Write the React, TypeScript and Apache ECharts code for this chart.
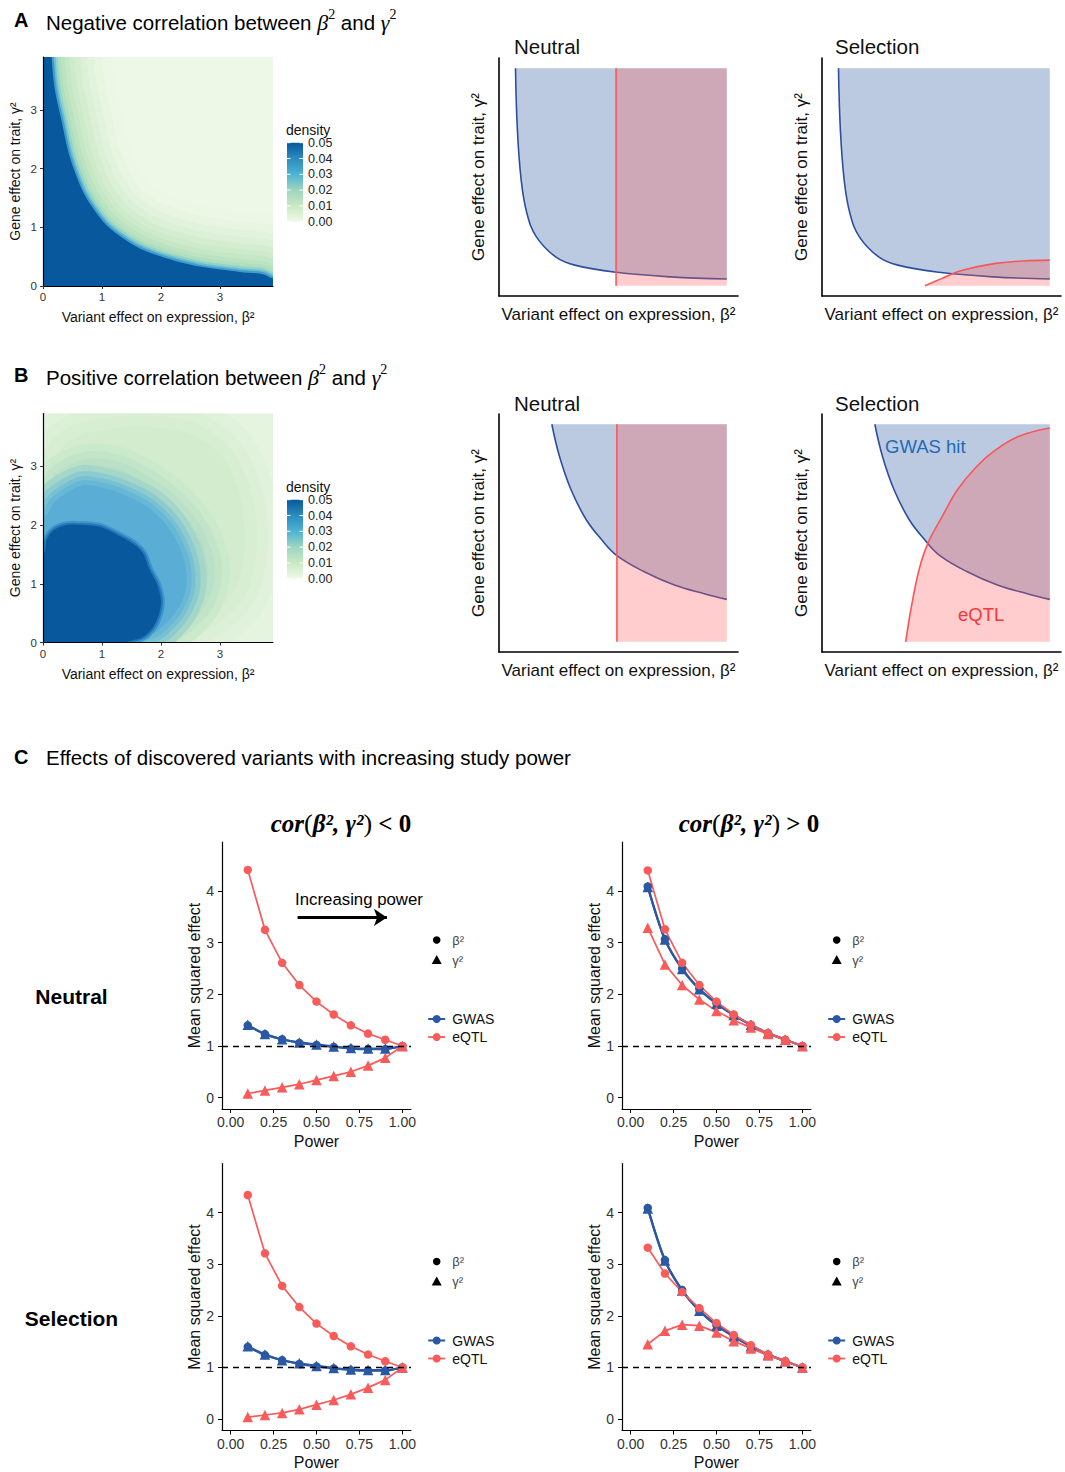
import React, { useEffect, useRef } from "react";
import * as echarts from "echarts";

const FONT = '"Liberation Sans", Arial, Helvetica, sans-serif';
const SERIF = '"Liberation Serif", "DejaVu Serif", serif';
const BLUE = "#2b58a3";
const RED = "#f95b5b";
const SKETCH_BLUE = "#2c4f9b";
const SKETCH_RED = "#f7575a";

// ---------- Panels A/B: smoothed density of (β², γ²) as contour layers ----------
const negDarkContour = [[-0.8, -0.8], [-0.8, 4.7], [0.12, 4.7], [0.147, 3.9], [0.2, 3.35], [0.32, 2.79], [0.43, 2.28], [0.54, 1.94], [0.68, 1.6], [0.85, 1.32], [1.08, 1.03], [1.36, 0.81], [1.64, 0.64], [2.1, 0.47], [2.66, 0.33], [3.34, 0.24], [3.73, 0.2], [3.9, 0.13], [4.7, 0.08], [4.7, -0.8]];

const posGreenContour = [[-0.8, -0.8], [-0.8, 2.5], [0.0, 2.7], [0.15, 3.05], [0.4, 3.4], [0.8, 3.58], [1.6, 3.68], [2.5, 3.55], [3.05, 3.15], [3.35, 2.45], [3.42, 1.6], [3.25, 0.9], [2.85, 0.5], [2.4, 0.25], [2.1, 0.08], [1.9, -0.8]];
const posTealContour = [[-0.8, -0.8], [-0.8, 2.2], [0.05, 2.45], [0.3, 2.8], [0.7, 3.0], [1.2, 2.98], [1.7, 2.75], [2.2, 2.38], [2.62, 1.85], [2.8, 1.25], [2.68, 0.72], [2.38, 0.38], [2.05, 0.14], [1.7, -0.8]];
const posRingContour = [[-0.8, -0.8], [-0.8, 1.9], [0.03, 2.15], [0.18, 2.38], [0.4, 2.55], [0.68, 2.68], [1.08, 2.62], [1.42, 2.5], [1.76, 2.32], [2.08, 2.02], [2.3, 1.66], [2.42, 1.28], [2.42, 0.9], [2.28, 0.56], [2.1, 0.34], [1.9, 0.17], [1.62, 0.05], [1.4, -0.8]];
const posDarkContour = [[-0.8, -0.8], [-0.8, 1.35], [0.0, 1.5], [0.06, 1.74], [0.18, 1.91], [0.4, 2.0], [0.68, 2.0], [0.97, 1.97], [1.25, 1.84], [1.53, 1.68], [1.7, 1.51], [1.8, 1.25], [1.93, 1.0], [2.0, 0.72], [1.97, 0.5], [1.87, 0.27], [1.7, 0.1], [1.47, 0.02], [1.2, -0.1], [1.0, -0.8]];

const heatTicks = [0, 1, 2, 3];
const densityLabels = ["0.05", "0.04", "0.03", "0.02", "0.01", "0.00"];
const densityColors = ["#08589e", "#2b8cbe", "#4eb3d3", "#9dd6bf", "#c9e9c3", "#f0f9e8"];

// ---------- Sketches: detection boundaries in (β², γ²) ----------
const gwasBoundaryNeg = [[0, 1], [0.009, 0.716], [0.027, 0.486], [0.054, 0.333], [0.099, 0.225], [0.19, 0.133], [0.281, 0.095], [0.476, 0.062], [0.734, 0.041], [1, 0.031]];
const eqtlThresholdNeg = 0.476;
const eqtlBoundaryNegSel = [[0.409, 0], [0.49, 0.034], [0.563, 0.064], [0.654, 0.087], [0.745, 0.103], [0.873, 0.114], [1, 0.118]];
const gwasBoundaryPos = [[0.172, 1], [0.208, 0.853], [0.263, 0.699], [0.335, 0.561], [0.408, 0.469], [0.48, 0.396], [0.607, 0.323], [0.752, 0.261], [0.897, 0.22], [1, 0.195]];
const eqtlThresholdPos = 0.48;
const eqtlBoundaryPosSel = [[0.318, 0], [0.345, 0.161], [0.381, 0.33], [0.422, 0.45], [0.491, 0.576], [0.563, 0.699], [0.654, 0.806], [0.745, 0.883], [0.854, 0.945], [1, 0.983]];

// ---------- Panel C: mean squared effects vs power ----------
const power = [0.1, 0.2, 0.3, 0.4, 0.5, 0.6, 0.7, 0.8, 0.9, 1.0];
const powerTicks = [0, 0.25, 0.5, 0.75, 1];
const effectTicks = [0, 1, 2, 3, 4];

const negNeutralGwasBeta = [1.40, 1.23, 1.13, 1.06, 1.02, 0.98, 0.95, 0.94, 0.94, 1.00];
const negNeutralGwasGamma = [1.41, 1.23, 1.13, 1.07, 1.03, 0.99, 0.96, 0.95, 0.95, 1.00];
const negNeutralEqtlBeta = [4.41, 3.25, 2.61, 2.18, 1.86, 1.61, 1.40, 1.24, 1.12, 1.00];
const negNeutralEqtlGamma = [0.08, 0.14, 0.20, 0.26, 0.34, 0.42, 0.50, 0.62, 0.77, 1.00];

const posNeutralGwasBeta = [4.09, 3.07, 2.50, 2.11, 1.83, 1.60, 1.41, 1.25, 1.12, 1.00];
const posNeutralGwasGamma = [4.08, 3.06, 2.49, 2.10, 1.82, 1.60, 1.41, 1.25, 1.12, 1.00];
const posNeutralEqtlBeta = [4.40, 3.26, 2.61, 2.18, 1.86, 1.61, 1.41, 1.25, 1.12, 1.00];
const posNeutralEqtlGamma = [3.29, 2.58, 2.18, 1.90, 1.68, 1.50, 1.36, 1.23, 1.12, 1.00];

const negSelectionGwasBeta = [1.40, 1.24, 1.14, 1.07, 1.02, 0.98, 0.95, 0.94, 0.94, 1.00];
const negSelectionGwasGamma = [1.41, 1.25, 1.14, 1.08, 1.03, 0.99, 0.96, 0.95, 0.95, 1.00];
const negSelectionEqtlBeta = [4.34, 3.21, 2.58, 2.17, 1.85, 1.61, 1.41, 1.25, 1.12, 1.00];
const negSelectionEqtlGamma = [0.04, 0.08, 0.12, 0.19, 0.28, 0.37, 0.48, 0.61, 0.76, 1.00];

const posSelectionGwasBeta = [4.09, 3.08, 2.50, 2.11, 1.82, 1.61, 1.41, 1.25, 1.12, 1.00];
const posSelectionGwasGamma = [4.08, 3.07, 2.49, 2.10, 1.81, 1.60, 1.41, 1.25, 1.12, 1.00];
const posSelectionEqtlBeta = [3.32, 2.82, 2.46, 2.15, 1.86, 1.63, 1.43, 1.25, 1.12, 1.00];
const posSelectionEqtlGamma = [1.45, 1.71, 1.83, 1.81, 1.68, 1.51, 1.37, 1.23, 1.12, 1.00];

// ---------- layout ----------
const gridBoxes = [
  { left: 43, top: 57, width: 230, height: 229 }, // A density
  { left: 43, top: 413.5, width: 230, height: 229 }, // B density
  { left: 499, top: 58, width: 239, height: 238 }, // A neutral
  { left: 822, top: 58, width: 239, height: 238 }, // A selection
  { left: 499, top: 414, width: 239, height: 238 }, // B neutral
  { left: 822, top: 414, width: 239, height: 238 }, // B selection
  { left: 222, top: 842, width: 189, height: 267 }, // C neutral, cor<0
  { left: 622, top: 842, width: 189, height: 267 }, // C neutral, cor>0
  { left: 222, top: 1163.5, width: 189, height: 267 }, // C selection, cor<0
  { left: 622, top: 1163.5, width: 189, height: 267 }, // C selection, cor>0
];

function heatX(g: number) {
  return {
    type: "value", gridIndex: g, min: 0, max: 3.9, z: 10,
    axisLine: { show: true, onZero: false, lineStyle: { color: "#000", width: 1.2 } },
    axisTick: { show: true, length: 3, customValues: heatTicks, lineStyle: { color: "#333" } },
    axisLabel: { customValues: heatTicks, fontSize: 11.5, color: "#333", margin: 5 },
    splitLine: { show: false },
    name: "Variant effect on expression, β²", nameLocation: "middle", nameGap: 24,
    nameTextStyle: { fontSize: 14, color: "#111" },
  };
}
function heatY(g: number) {
  return {
    type: "value", gridIndex: g, min: 0, max: 3.9, z: 10,
    axisLine: { show: true, onZero: false, lineStyle: { color: "#000", width: 1.2 } },
    axisTick: { show: true, length: 3, customValues: heatTicks, lineStyle: { color: "#333" } },
    axisLabel: { customValues: heatTicks, fontSize: 11.5, color: "#333", margin: 6 },
    splitLine: { show: false },
    name: "Gene effect on trait, γ²", nameLocation: "middle", nameGap: 21,
    nameTextStyle: { fontSize: 14, color: "#111" },
  };
}
function sketchX(g: number) {
  return {
    type: "value", gridIndex: g, min: -0.078, max: 1.053, z: 10,
    axisLine: { show: true, onZero: false, lineStyle: { color: "#000", width: 1.6 } },
    axisTick: { show: false }, axisLabel: { show: false }, splitLine: { show: false },
    name: "Variant effect on expression, β²", nameLocation: "middle", nameGap: 10,
    nameTextStyle: { fontSize: 17, color: "#111" },
  };
}
function sketchY(g: number) {
  return {
    type: "value", gridIndex: g, min: -0.047, max: 1.047, z: 10,
    axisLine: { show: true, onZero: false, lineStyle: { color: "#000", width: 1.6 } },
    axisTick: { show: false }, axisLabel: { show: false }, splitLine: { show: false },
    name: "Gene effect on trait, γ²", nameLocation: "middle", nameGap: 12,
    nameTextStyle: { fontSize: 17, color: "#111" },
  };
}
function powerX(g: number) {
  return {
    type: "value", gridIndex: g, min: -0.05, max: 1.05, z: 10,
    axisLine: { show: true, onZero: false, lineStyle: { color: "#000", width: 1.2 } },
    axisTick: { show: true, length: 4, customValues: powerTicks, lineStyle: { color: "#000" } },
    axisLabel: { customValues: powerTicks, fontSize: 14, color: "#333", margin: 6, formatter: (v: number) => v.toFixed(2) },
    splitLine: { show: false },
    name: "Power", nameLocation: "middle", nameGap: 24,
    nameTextStyle: { fontSize: 16, color: "#111" },
  };
}
function effectY(g: number) {
  return {
    type: "value", gridIndex: g, min: -0.22, max: 4.95, z: 10,
    axisLine: { show: true, onZero: false, lineStyle: { color: "#000", width: 1.2 } },
    axisTick: { show: true, length: 4, customValues: effectTicks, lineStyle: { color: "#000" } },
    axisLabel: { customValues: effectTicks, fontSize: 14, color: "#333", margin: 8 },
    splitLine: { show: false },
    name: "Mean squared effect", nameLocation: "middle", nameGap: 20,
    nameTextStyle: { fontSize: 16, color: "#111" },
  };
}

// One filled contour polygon in data coordinates; the halo is a stack of
// ever narrower strokes of the same outline, so the level fades outwards.
function contour(g: number, pts: number[][], fill: string, halo: [number, string][], z: number) {
  return {
    type: "custom", xAxisIndex: g, yAxisIndex: g, clip: true, silent: true, z,
    data: [[1, 1]],
    renderItem: (_p: any, api: any) => {
      const points = pts.map((p) => api.coord(p));
      return {
        type: "group",
        children: [
          ...halo.map(([w, c]) => ({
            type: "polygon",
            shape: { points, smooth: 0.3 },
            style: { fill: "none", stroke: c, lineWidth: w, lineJoin: "round" },
          })),
          { type: "polygon", shape: { points, smooth: 0.3 }, style: { fill } },
        ],
      };
    },
  };
}

function gwasRegion(g: number, pts: number[][]) {
  return {
    type: "line", xAxisIndex: g, yAxisIndex: g, data: pts, smooth: 0.4,
    symbol: "none", silent: true, z: 2,
    lineStyle: { color: SKETCH_BLUE, width: 1.6 },
    areaStyle: { origin: 1, color: "#1f4e9c", opacity: 0.3 },
  };
}
function eqtlThreshold(g: number, t: number) {
  return [
    {
      type: "line", xAxisIndex: g, yAxisIndex: g, data: [[t, 1], [1, 1]], symbol: "none", silent: true, z: 3,
      lineStyle: { opacity: 0, width: 0 },
      areaStyle: { origin: 0, color: "#ff5a5a", opacity: 0.3 },
    },
    {
      type: "line", xAxisIndex: g, yAxisIndex: g, data: [[t, 0], [t, 1]], symbol: "none", silent: true, z: 4,
      lineStyle: { color: SKETCH_RED, width: 1.6 },
    },
  ];
}
function eqtlCurve(g: number, pts: number[][]) {
  return {
    type: "line", xAxisIndex: g, yAxisIndex: g, data: pts, smooth: 0.4,
    symbol: "none", silent: true, z: 3,
    lineStyle: { color: SKETCH_RED, width: 1.6 },
    areaStyle: { origin: 0, color: "#ff5a5a", opacity: 0.3 },
  };
}

function effect(g: number, vals: number[], color: string, symbol: string, width: number, smooth: number, extra: any = {}) {
  return {
    type: "line", xAxisIndex: g, yAxisIndex: g,
    data: power.map((p, i) => [p, vals[i]]),
    symbol, symbolSize: symbol === "triangle" ? 10.5 : 8.5, showSymbol: true,
    smooth, silent: true, z: 3,
    itemStyle: { color }, lineStyle: { color, width },
    ...extra,
  };
}
const refLine = {
  markLine: {
    silent: true, symbol: ["none", "none"], label: { show: false },
    lineStyle: { color: "#000", type: [6, 5], width: 1.4 },
    data: [{ yAxis: 1 }],
  },
};
function effectPanel(g: number, gb: number[], gg: number[], eb: number[], eg: number[], extra: any = {}) {
  return [
    effect(g, gb, BLUE, "circle", 2.2, 0.3, refLine),
    effect(g, gg, BLUE, "triangle", 2.2, 0.3),
    effect(g, eb, RED, "circle", 1.7, 0),
    effect(g, eg, RED, "triangle", 1.7, 0, extra),
  ];
}
const powerArrow = {
  markLine: {
    silent: true, symbol: ["none", "arrow"], symbolSize: 13, label: { show: false },
    lineStyle: { color: "#000", type: "solid", width: 3 },
    data: [[{ coord: [0.39, 3.49] }, { coord: [0.91, 3.49] }]],
  },
};

function txt(x: number, y: number, text: string, style: any = {}) {
  return {
    type: "text", x, y, silent: true,
    style: { text, fontFamily: FONT, fontSize: 14, fill: "#111", verticalAlign: "middle", textVerticalAlign: "middle", ...style },
  };
}

function densityLegend(top: number) {
  const els: any[] = [];
  const x = 287, w = 16, h = 79, y0 = top + 12.7;
  els.push(txt(286, top, "density", { fontSize: 14 }));
  els.push({
    type: "rect", silent: true, shape: { x, y: y0, width: w, height: h },
    style: {
      fill: new echarts.graphic.LinearGradient(0, 0, 0, 1,
        densityColors.map((c, i) => ({ offset: i / (densityColors.length - 1), color: c }))),
    },
  });
  densityLabels.forEach((lab, i) => {
    const y = y0 + (i * h) / (densityLabels.length - 1);
    els.push({ type: "line", silent: true, shape: { x1: x, y1: y, x2: x + 3.5, y2: y }, style: { stroke: "#fff", lineWidth: 1 } });
    els.push({ type: "line", silent: true, shape: { x1: x + w - 3.5, y1: y, x2: x + w, y2: y }, style: { stroke: "#fff", lineWidth: 1 } });
    els.push(txt(308, y, lab, { fontSize: 12.5, fill: "#222" }));
  });
  return els;
}

function effectLegend(x0: number, y0: number) {
  return [
    { type: "circle", silent: true, shape: { cx: x0, cy: y0, r: 3.8 }, style: { fill: "#000" } },
    txt(x0 + 15.5, y0, "β²", { fontSize: 13, fill: "#444" }),
    { type: "polygon", silent: true, shape: { points: [[x0, y0 + 15], [x0 + 5, y0 + 24], [x0 - 5, y0 + 24]] }, style: { fill: "#000" } },
    txt(x0 + 15.5, y0 + 20, "γ²", { fontSize: 13, fill: "#444" }),
    { type: "line", silent: true, shape: { x1: x0 - 8.5, y1: y0 + 79, x2: x0 + 8.5, y2: y0 + 79 }, style: { stroke: BLUE, lineWidth: 2 } },
    { type: "circle", silent: true, shape: { cx: x0, cy: y0 + 79, r: 4 }, style: { fill: BLUE } },
    txt(x0 + 15.5, y0 + 79, "GWAS", { fontSize: 14 }),
    { type: "line", silent: true, shape: { x1: x0 - 8.5, y1: y0 + 97, x2: x0 + 8.5, y2: y0 + 97 }, style: { stroke: RED, lineWidth: 1.8 } },
    { type: "circle", silent: true, shape: { cx: x0, cy: y0 + 97, r: 4 }, style: { fill: RED } },
    txt(x0 + 15.5, y0 + 97, "eQTL", { fontSize: 14 }),
  ];
}

const titleRich = {
  m: { fontFamily: SERIF, fontStyle: "italic", fontSize: 22, lineHeight: 26, verticalAlign: "bottom" },
  s: { fontFamily: SERIF, fontSize: 14, lineHeight: 12, verticalAlign: "top" },
  n: { fontFamily: FONT, fontSize: 20.5, lineHeight: 26, verticalAlign: "bottom" },
};

function corTitle(cx: number, sign: string) {
  return {
    type: "text", x: cx, y: 823, silent: true,
    style: {
      text: `{i|cor}{p|(}{i|β², γ²}{p|)}{b| ${sign} 0}`,
      align: "center", textAlign: "center", verticalAlign: "middle", textVerticalAlign: "middle",
      fill: "#000",
      rich: {
        i: { fontFamily: SERIF, fontStyle: "italic", fontWeight: "bold", fontSize: 25, fill: "#000" },
        p: { fontFamily: SERIF, fontSize: 26, fill: "#000" },
        b: { fontFamily: SERIF, fontWeight: "bold", fontSize: 25, fill: "#000" },
      },
    },
  };
}

function buildOption() {
  const grid = gridBoxes.map((b, i) => ({
    ...b, containLabel: false,
    show: i < 2, backgroundColor: i === 0 ? "#eef8e7" : "#e4f4df", borderWidth: 0,
  }));
  const xAxis = [heatX(0), heatX(1), sketchX(2), sketchX(3), sketchX(4), sketchX(5), powerX(6), powerX(7), powerX(8), powerX(9)];
  const yAxis = [heatY(0), heatY(1), sketchY(2), sketchY(3), sketchY(4), sketchY(5), effectY(6), effectY(7), effectY(8), effectY(9)];

  const series: any[] = [
    contour(0, negDarkContour, "#08589e", [
      [120, "#ecf7e6"], [100, "#e7f5e1"], [84, "#e1f3dc"], [70, "#dbf0d6"], [57, "#d4edcf"], [45, "#cdeaca"],
      [35, "#c5e7c4"], [26, "#bce3c1"], [18, "#aedfc1"], [12, "#94d3c6"], [7.5, "#6bbcd3"], [4, "#3f9dcd"],
    ], 1),

    contour(1, posGreenContour, "#d3ecce", [[70, "#e0f2db"], [46, "#dbf0d6"], [24, "#d7eed2"]], 1),
    contour(1, posTealContour, "#b3ddc6", [[44, "#cbe9cb"], [28, "#c2e5c9"], [14, "#bae1c7"]], 2),
    contour(1, posRingContour, "#5aaed6", [[40, "#a4d6c9"], [28, "#8dcbcf"], [18, "#78c1d3"], [10, "#68b7d5"]], 3),
    contour(1, posDarkContour, "#08589e", [[8, "#3d96cc"], [4, "#2379b8"]], 4),

    gwasRegion(2, gwasBoundaryNeg),
    ...eqtlThreshold(2, eqtlThresholdNeg),
    gwasRegion(3, gwasBoundaryNeg),
    eqtlCurve(3, eqtlBoundaryNegSel),
    gwasRegion(4, gwasBoundaryPos),
    ...eqtlThreshold(4, eqtlThresholdPos),
    gwasRegion(5, gwasBoundaryPos),
    eqtlCurve(5, eqtlBoundaryPosSel),

    ...effectPanel(6, negNeutralGwasBeta, negNeutralGwasGamma, negNeutralEqtlBeta, negNeutralEqtlGamma, powerArrow),
    ...effectPanel(7, posNeutralGwasBeta, posNeutralGwasGamma, posNeutralEqtlBeta, posNeutralEqtlGamma),
    ...effectPanel(8, negSelectionGwasBeta, negSelectionGwasGamma, negSelectionEqtlBeta, negSelectionEqtlGamma),
    ...effectPanel(9, posSelectionGwasBeta, posSelectionGwasGamma, posSelectionEqtlBeta, posSelectionEqtlGamma),
  ];

  const elements: any[] = [
    txt(14, 20, "A", { fontSize: 20, fontWeight: "bold", fill: "#000" }),
    txt(46, 20, "{n|Negative correlation between }{m|β}{s|2}{n| and }{m|γ}{s|2}", { fontSize: 20.5, fill: "#000", rich: titleRich }),
    txt(14, 375, "B", { fontSize: 20, fontWeight: "bold", fill: "#000" }),
    txt(46, 375, "{n|Positive correlation between }{m|β}{s|2}{n| and }{m|γ}{s|2}", { fontSize: 20.5, fill: "#000", rich: titleRich }),
    txt(14, 757, "C", { fontSize: 20, fontWeight: "bold", fill: "#000" }),
    txt(46, 757, "Effects of discovered variants with increasing study power", { fontSize: 20.5, fill: "#000" }),

    txt(514, 46, "Neutral", { fontSize: 20.5 }),
    txt(835, 46, "Selection", { fontSize: 20.5 }),
    txt(514, 403, "Neutral", { fontSize: 20.5 }),
    txt(835, 403, "Selection", { fontSize: 20.5 }),
    txt(885, 446, "GWAS hit", { fontSize: 18.5, fill: "#2676c6" }),
    txt(958, 614, "eQTL", { fontSize: 18.5, fill: "#f52a2a" }),

    ...densityLegend(130),
    ...densityLegend(487),

    corTitle(341, "<"),
    corTitle(749, ">"),
    txt(71.5, 996, "Neutral", { fontSize: 21, fontWeight: "bold", fill: "#000", align: "center", textAlign: "center" }),
    txt(71.5, 1318, "Selection", { fontSize: 21, fontWeight: "bold", fill: "#000", align: "center", textAlign: "center" }),
    txt(359, 899, "Increasing power", { fontSize: 16.8, fill: "#000", align: "center", textAlign: "center" }),

    ...effectLegend(436.7, 940),
    ...effectLegend(836.7, 940),
    ...effectLegend(436.7, 1261.5),
    ...effectLegend(836.7, 1261.5),
  ];

  return {
    animation: false,
    backgroundColor: "#fff",
    textStyle: { fontFamily: FONT },
    grid, xAxis, yAxis, series,
    graphic: { elements },
  };
}

export default function App() {
  const ref = useRef<HTMLDivElement>(null);
  useEffect(() => {
    const chart = echarts.init(ref.current as HTMLDivElement, undefined, { renderer: "svg" });
    chart.setOption(buildOption() as any);
    return () => chart.dispose();
  }, []);
  return (
    <div
      ref={ref}
      style={{ position: "absolute", left: 0, top: 0, width: 1065, height: 1472, background: "#fff" }}
    />
  );
}
